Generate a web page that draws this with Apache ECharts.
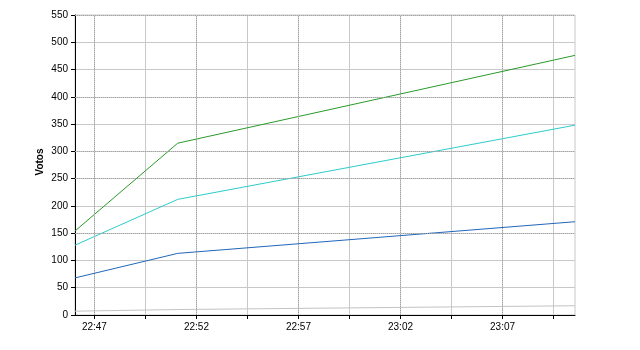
<!DOCTYPE html>
<html>
<head>
<meta charset="utf-8">
<script src="https://cdn.jsdelivr.net/npm/echarts@6/dist/echarts.min.js"></script>
<style>html,body{margin:0;padding:0;background:#fff;}#c{width:640px;height:350px;}</style>
</head>
<body>
<div id="c"></div>
<script>
// Data
var times = ['22:46:03', '22:51:05', '23:10:33'];
var greenVotes = [154, 315, 476];
var cyanVotes = [128, 212, 348];
var blueVotes = [68, 113, 171];
var grayVotes = [7, 10, 17];
var majorTicks = ['22:47', '22:52', '22:57', '23:02', '23:07'];
var minorTicks = ['22:49:30', '22:54:30', '22:59:30', '23:04:30', '23:09:30'];
var dottedY = [150, 250, 300, 400, 550];

function toMin(s) {
  var p = s.split(':').map(Number);
  return p[0] * 60 + p[1] + (p[2] || 0) / 60;
}
function fmt(v) {
  var m = Math.round(v);
  var h = Math.floor(m / 60), mm = m % 60;
  return h + ':' + (mm < 10 ? '0' : '') + mm;
}
function pairs(vals) {
  return times.map(function (t, i) { return [toMin(t), vals[i]]; });
}

var majorVals = majorTicks.map(toMin);
var allTickVals = majorTicks.concat(minorTicks).map(toMin).sort(function (a, b) { return a - b; });
var font = 'Liberation Sans, Arial, sans-serif';
var dotStyle = { type: [1, 1], color: '#a4a4a4', width: 1 };

var chart = echarts.init(document.getElementById('c'), null, { renderer: 'canvas' });
chart.setOption({
  animation: false,
  backgroundColor: '#ffffff',
  grid: { left: 75, top: 15, width: 500, height: 300, show: true, borderColor: '#c8c8c8', borderWidth: 1, backgroundColor: 'transparent' },
  xAxis: {
    type: 'value',
    min: toMin(times[0]),
    max: toMin(times[times.length - 1]),
    axisLine: { show: true, onZero: false, lineStyle: { color: '#000', width: 1 } },
    axisTick: { show: true, length: 4, customValues: allTickVals, lineStyle: { color: '#000' } },
    axisLabel: { customValues: majorVals, formatter: fmt, color: '#000', fontFamily: font, fontSize: 10, margin: 7 },
    splitLine: { show: true, lineStyle: { color: '#c8c8c8', width: 1 } }
  },
  yAxis: {
    type: 'value',
    min: 0, max: 550, interval: 50,
    name: 'Votos',
    nameLocation: 'middle',
    nameGap: 30,
    nameMoveOverlap: false,
    nameTextStyle: { fontWeight: 'bold', fontFamily: font, fontSize: 10, color: '#000', padding: [0, 0, 0, 6] },
    axisLine: { show: true, lineStyle: { color: '#000', width: 1 } },
    axisTick: { show: true, length: 4, lineStyle: { color: '#000' } },
    axisLabel: { color: '#000', fontFamily: font, fontSize: 10, margin: 7 },
    splitLine: { show: true, lineStyle: { color: '#c8c8c8', width: 1 } }
  },
  series: [
    {
      name: 'Gris', type: 'line', data: pairs(grayVotes), symbol: 'none',
      lineStyle: { color: '#c4c4c4', width: 1 }, z: 3,
      markLine: {
        silent: true, symbol: 'none', label: { show: false }, animation: false,
        lineStyle: dotStyle,
        data: majorVals.map(function (v) { return { xAxis: v }; })
          .concat(dottedY.map(function (v) { return { yAxis: v }; }))
      }
    },
    { name: 'Azul', type: 'line', data: pairs(blueVotes), symbol: 'none', lineStyle: { color: '#2266bb', width: 1 }, z: 4 },
    { name: 'Cian', type: 'line', data: pairs(cyanVotes), symbol: 'none', lineStyle: { color: '#2ccccc', width: 1 }, z: 4 },
    { name: 'Verde', type: 'line', data: pairs(greenVotes), symbol: 'none', lineStyle: { color: '#2a9a2a', width: 1 }, z: 4 }
  ]
});
</script>
</body>
</html>
